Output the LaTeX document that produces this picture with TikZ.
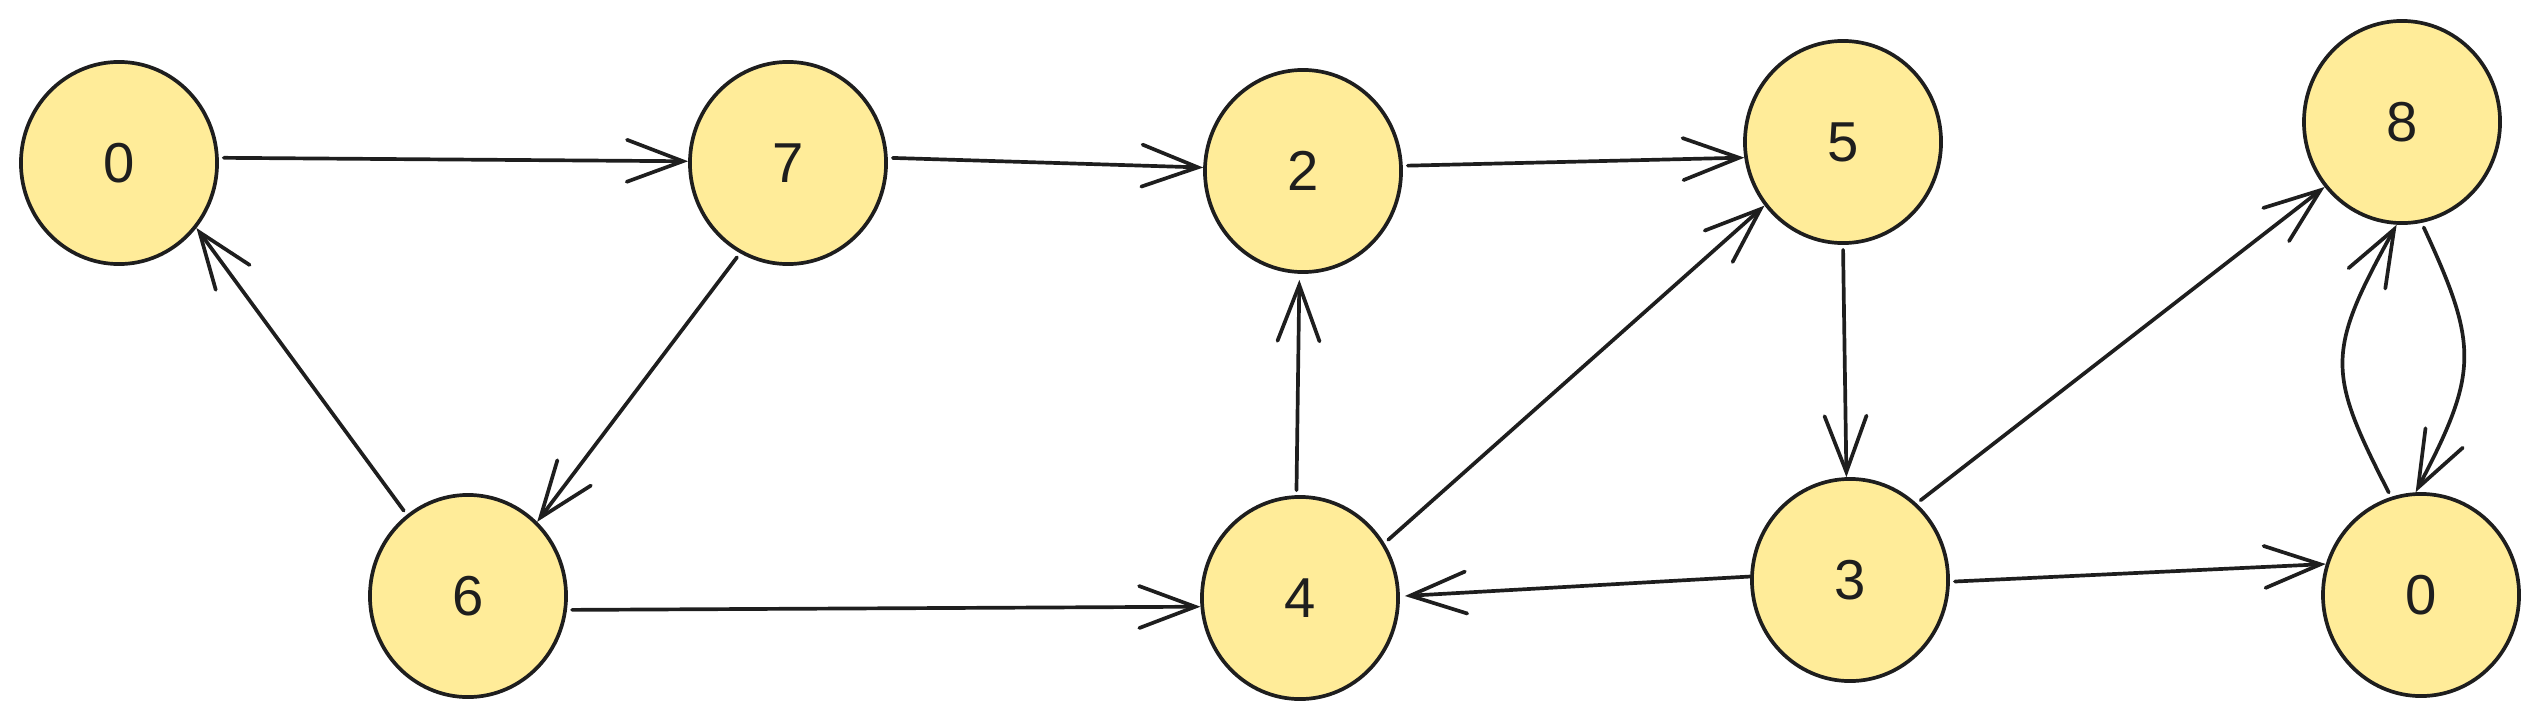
\documentclass[tikz,border=0pt]{standalone}
\usepackage{fontspec}
\setmainfont{Liberation Sans}
\usetikzlibrary{shapes.geometric,arrows.meta}
\definecolor{nodefill}{HTML}{FFEC99}
\definecolor{ink}{HTML}{1E1E1E}
\begin{document}
\begin{tikzpicture}[x=0.01cm,y=-0.01cm,
  vertex/.style={ellipse,draw=ink,fill=nodefill,line width=1.05pt,
    minimum width=1.96cm,minimum height=2.02cm,inner sep=0pt,
    font=\fontsize{16}{19}\selectfont,text=ink},
  edge/.style={draw=ink,line width=1.05pt,line cap=round,line join=round,
    shorten <=0.05cm,
    -{Straight Barb[length=0.56cm,width=0.42cm,line cap=round]}}]
\useasboundingbox (0,0) rectangle (2540,721);
\node[vertex] (a) at (119,163) {0};
\node[vertex] (g) at (788,163) {7};
\node[vertex] (b) at (1303,171) {2};
\node[vertex] (e) at (1843,142) {5};
\node[vertex] (h) at (2402,122) {8};
\node[vertex] (f) at (468,596) {6};
\node[vertex] (d) at (1300,598) {4};
\node[vertex] (c) at (1850,580) {3};
\node[vertex] (i) at (2421,595) {0};

\draw[edge] (a.3) -- (g.179.4);
\draw[edge] (g.3.9) -- (b.178.9);
\draw[edge] (b.3.2) -- (e.189);
\draw[edge] (e.270) -- (c.92);
\draw[edge] (c.49) -- (h.220.3);
\draw[edge] (c.-1) -- (i.162.4);
\draw[edge,shorten <=0pt,shorten >=0.05cm] (c.178.3) -- (d.1);
\draw[edge] (d.33.7) -- (e.219);
\draw[edge,shorten >=0.06cm] (d.92.7) -- (b.268.5);
\draw[edge] (f.-8) -- (d.185.7);
\draw[edge] (f.127.4) -- (a.320.6);
\draw[edge] (g.242.7) -- (f.47.8);
\draw[edge] (h.281.8) .. controls +(57,123) and +(63,-120) .. (i.93);
\draw[edge] (i.107) .. controls +(-64,-125) and +(-71,128) .. (h.267);
\end{tikzpicture}
\end{document}
